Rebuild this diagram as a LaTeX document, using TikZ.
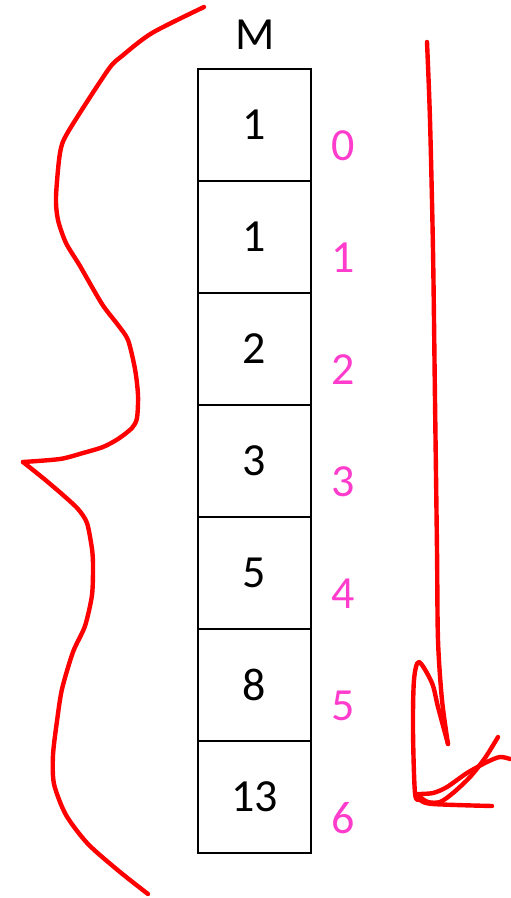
\documentclass[tikz,border=0pt]{standalone}
\usepackage{fontspec}
\setmainfont{Carlito}
\definecolor{idxpink}{RGB}{255,60,204}
\definecolor{penred}{RGB}{255,0,0}
\begin{document}
\begin{tikzpicture}[x=1pt,y=-1pt,
  cell/.style={draw=black,line width=2pt,minimum width=113pt,minimum height=112pt,inner sep=0pt,font=\fontsize{46}{50}\selectfont},
  idx/.style={text=idxpink,font=\fontsize{46}{50}\selectfont,inner sep=0pt},
  pen/.style={draw=penred,line width=4.4pt,line cap=round,line join=round}]
\useasboundingbox (0,0) rectangle (511,898);
\node[font=\fontsize{46}{50}\selectfont,inner sep=0pt] (M) at (255,35) {M};
\foreach \v [count=\i from 0] in {1,1,2,3,5,8,13}{
  \node[cell] (c\i) at (254.5,{125+112*\i}) {\v};
  \node[idx] (l\i) at (343,{146+112*\i}) {\i};
}
% brace
\draw[pen] plot[smooth,tension=0.45] coordinates{(204,7) (152,33) (122,56) (108,70) (68,132) (60,153) (56,197) (58,220) (66,243) (80,266) (102,304) (118,325) (128,340) (135,369) (138,395) (137,418) (132,428) (118,439) (103,447) (83,453) (60,459) (23,462)};
\draw[pen] plot[smooth,tension=0.45] coordinates{(23,462) (43,478) (63,495) (78,509) (87,523) (92,549) (93,566) (92,595) (85,626) (73,652) (62,689) (57,721) (53,755) (54,784) (66,815) (88,844) (120,872) (148,894)};
% arrow
\draw[pen] plot[smooth,tension=0.5] coordinates{(427,42) (430,120) (433,250) (435,400) (437,550) (438,640) (442,700) (448,744)};
\draw[pen] plot[smooth,tension=0.5] coordinates{(448,744) (438,707) (432,683) (419,662) (414,680) (413,730) (415,793) (420,800) (433,804) (492,806)};
\draw[pen] plot[smooth,tension=0.5] coordinates{(498,737) (485,758) (470,777) (453,793) (440,802) (428,802) (420,797)};
\draw[pen] plot[smooth,tension=0.5] coordinates{(510,759) (500,757) (487,762) (467,773) (447,787) (433,793) (418,794)};
\end{tikzpicture}
\end{document}
